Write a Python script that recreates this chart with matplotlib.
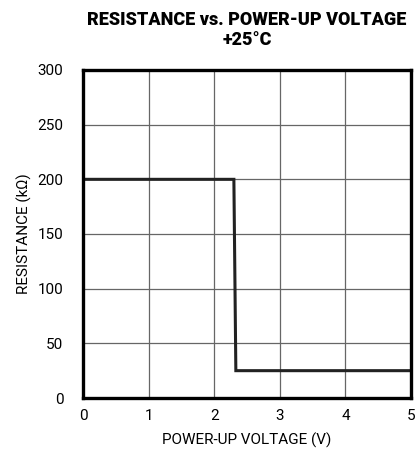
import matplotlib
matplotlib.use('Agg')
import matplotlib.pyplot as plt

plt.rcParams['font.family'] = ['Roboto', 'DejaVu Sans']

# 数据
voltage = [0, 2.3, 2.33, 5]
resistance = [200, 200, 25, 25]

fig = plt.figure(figsize=(4.15, 4.59), dpi=100)
ax = fig.add_axes([83 / 415, 61 / 459, 328 / 415, 328 / 459])

ax.plot(voltage, resistance, color='#222222', linewidth=2.2, solid_joinstyle='miter')

ax.set_xlim(0, 5)
ax.set_ylim(0, 300)
ax.set_xticks(range(0, 6))
ax.set_yticks(range(0, 301, 50))
ax.grid(True, color='#666666', linewidth=0.9)
ax.tick_params(axis='x', length=0, labelsize=11, pad=8)
ax.tick_params(axis='y', length=0, labelsize=11, pad=14)
for s in ax.spines.values():
    s.set_linewidth(2.4)

ax.set_xlabel('POWER-UP VOLTAGE (V)', fontsize=11, labelpad=7)
ax.set_ylabel('RESISTANCE (kΩ)', fontsize=11, labelpad=4)
ax.set_title('RESISTANCE vs. POWER-UP VOLTAGE\n+25°C', fontsize=13, fontweight='heavy',
             pad=18, linespacing=1.15)

fig.savefig('out.png', dpi=100)
